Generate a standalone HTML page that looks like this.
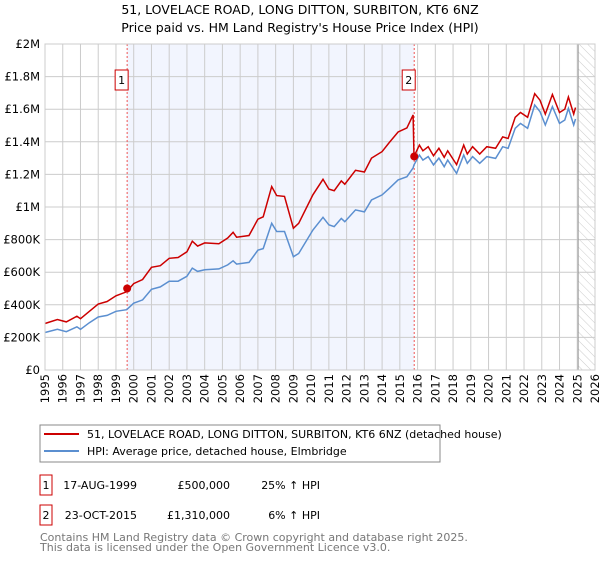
<!DOCTYPE html>
<html><head><meta charset="utf-8"><style>
body{margin:0;background:#fff;font-family:"Liberation Sans","DejaVu Sans",sans-serif;}
svg text{font-family:"DejaVu Sans","Liberation Sans",sans-serif;}
</style></head><body>
<svg id="chart" width="600" height="560" xmlns="http://www.w3.org/2000/svg">
<defs><pattern id="hatch" width="6" height="6" patternUnits="userSpaceOnUse" patternTransform="rotate(-45)"><line x1="0" y1="0" x2="0" y2="6" stroke="#ccc" stroke-width="1"/></pattern></defs>
<text x="300" y="14" text-anchor="middle" font-size="12.5" fill="#000">51, LOVELACE ROAD, LONG DITTON, SURBITON, KT6 6NZ</text>
<text x="300" y="32" text-anchor="middle" font-size="12.5" fill="#000">Price paid vs. HM Land Registry's House Price Index (HPI)</text>
<g id="plot"></g>
<g>
<rect x="40" y="425" width="400" height="37" fill="#fff" stroke="#888"/>
<line x1="44" y1="434" x2="79" y2="434" stroke="#cc0000" stroke-width="2"/>
<text x="87" y="438" font-size="11">51, LOVELACE ROAD, LONG DITTON, SURBITON, KT6 6NZ (detached house)</text>
<line x1="44" y1="451" x2="79" y2="451" stroke="#5b8fd0" stroke-width="2"/>
<text x="87" y="455" font-size="11">HPI: Average price, detached house, Elmbridge</text>
</g>
<g font-size="11">
<rect x="40" y="475" width="12" height="20" fill="#fff" stroke="#cc0000"/>
<text x="46" y="489" text-anchor="middle">1</text>
<text x="137" y="489" text-anchor="end">17-AUG-1999</text>
<text x="230" y="489" text-anchor="end">£500,000</text>
<text x="320" y="489" text-anchor="end">25% ↑ HPI</text>
<rect x="40" y="505" width="12" height="20" fill="#fff" stroke="#cc0000"/>
<text x="46" y="519" text-anchor="middle">2</text>
<text x="137" y="519" text-anchor="end">23-OCT-2015</text>
<text x="230" y="519" text-anchor="end">£1,310,000</text>
<text x="320" y="519" text-anchor="end">6% ↑ HPI</text>
</g>
<g font-size="11" fill="#777">
<text x="40" y="541">Contains HM Land Registry data © Crown copyright and database right 2025.</text>
<text x="40" y="551">This data is licensed under the Open Government Licence v3.0.</text>
</g>
</svg>
<script>
const years=[1995.0,1995.7,1996.2,1996.8,1997.0,1997.5,1998.0,1998.5,1999.0,1999.6,2000.0,2000.5,2001.0,2001.5,2002.0,2002.5,2003.0,2003.3,2003.6,2004.0,2004.8,2005.3,2005.6,2005.8,2006.5,2007.0,2007.3,2007.78,2008.06,2008.5,2009.0,2009.3,2010.1,2010.67,2011.0,2011.3,2011.7,2011.9,2012.5,2013.0,2013.4,2014.0,2014.4,2014.9,2015.4,2015.75,2015.8,2016.1,2016.3,2016.6,2016.9,2017.2,2017.5,2017.7,2018.2,2018.6,2018.8,2019.1,2019.5,2019.9,2020.4,2020.8,2021.1,2021.5,2021.8,2022.2,2022.6,2022.9,2023.2,2023.6,2024.0,2024.3,2024.5,2024.8,2024.9];
const hpiValues=[230,250,235,265,250,290,325,335,360,370,410,430,495,510,545,545,575,625,605,615,620,645,670,650,660,735,745,900,850,850,695,715,859,937,890,880,930,910,982,970,1043,1074,1114,1166,1186,1240,1258,1319,1288,1309,1258,1300,1247,1288,1206,1319,1268,1309,1268,1309,1298,1370,1360,1483,1513,1483,1626,1585,1503,1616,1513,1534,1605,1503,1540];
const priceValues=[285,310,295,330,315,360,405,420,455,480,530,555,630,640,685,690,725,790,760,780,775,810,845,815,825,925,940,1125,1070,1065,870,900,1075,1170,1110,1100,1160,1140,1225,1215,1300,1340,1395,1460,1485,1565,1310,1380,1345,1370,1315,1360,1305,1345,1260,1380,1325,1370,1325,1370,1360,1430,1420,1550,1580,1550,1695,1655,1570,1690,1580,1600,1675,1570,1610];
const saleYears=[1999.63,2015.81];
const saleValues=[500,1310];
const saleLabels=["1","2"];
const yTicks=[0,200,400,600,800,1000,1200,1400,1600,1800,2000];
const yTickLabels=["£0","£200K","£400K","£600K","£800K","£1M","£1.2M","£1.4M","£1.6M","£1.8M","£2M"];
const xTicks=[1995,1996,1997,1998,1999,2000,2001,2002,2003,2004,2005,2006,2007,2008,2009,2010,2011,2012,2013,2014,2015,2016,2017,2018,2019,2020,2021,2022,2023,2024,2025,2026];
const X0=45,X1=595,Y0=370,Y1=44;
const xs=y=>X0+(y-1995)/31*(X1-X0);
const ys=v=>Y0-v/2000*(Y0-Y1);
const NS="http://www.w3.org/2000/svg";
const g=document.getElementById('plot');
function mk(t,a,p){const e=document.createElementNS(NS,t);for(const k in a)e.setAttribute(k,a[k]);(p||g).appendChild(e);return e;}
let e;
e=mk('rect',{x:xs(saleYears[0]),y:Y1,width:xs(saleYears[1])-xs(saleYears[0]),height:Y0-Y1,fill:'#f2f5fe'});


e=mk('rect',{x:xs(2025.05),y:Y1,width:X1-xs(2025.05),height:Y0-Y1,fill:'url(#hatch)'});


yTicks.forEach((v,i)=>{
 e=mk('line',{x1:X0,x2:X1,y1:ys(v),y2:ys(v),stroke:'#cccccc','stroke-width':1});
 
 
 e=mk('text',{x:X0-5,y:ys(v)+4,'text-anchor':'end','font-size':11.5});
 e.textContent=yTickLabels[i];
 
 
});
xTicks.forEach(yr=>{
 e=mk('line',{x1:xs(yr),x2:xs(yr),y1:Y1,y2:Y0,stroke:'#cccccc','stroke-width':1});
 
 
 e=mk('text',{x:0,y:0,'text-anchor':'end','font-size':11.5,transform:`translate(${xs(yr)+4},${Y0+4}) rotate(-90)`});
 e.textContent=yr;
 
 
});
e=mk('line',{x1:xs(2025.05),x2:xs(2025.05),y1:Y1,y2:Y0,stroke:'#999','stroke-width':1});


saleYears.forEach((yr,i)=>{
 e=mk('line',{x1:xs(yr),x2:xs(yr),y1:Y1,y2:Y0,stroke:'#ee5555','stroke-width':1,'stroke-dasharray':'2,2'});
 
 
});
function path(vals){return vals.map((v,i)=>(i?'L':'M')+xs(years[i]).toFixed(1)+','+ys(v).toFixed(1)).join('');}
e=mk('path',{d:path(hpiValues),fill:'none',stroke:'#5b8fd0','stroke-width':1.5});


e=mk('path',{d:path(priceValues),fill:'none',stroke:'#cc0000','stroke-width':1.5});


saleYears.forEach((yr,i)=>{
 e=mk('circle',{cx:xs(yr),cy:ys(saleValues[i]),r:4,fill:'#cc0000'});
 
 
 e=mk('rect',{x:xs(yr)-12,y:70,width:13,height:20,fill:'#fff',stroke:'#cc0000'});
 
 
 e=mk('text',{x:xs(yr)-5.5,y:84,'text-anchor':'middle','font-size':11});
 e.textContent=saleLabels[i];
 
 
});
e=mk('rect',{x:X0,y:Y1,width:X1-X0,height:Y0-Y1,fill:'none',stroke:'#cccccc'});


</script>
</body></html>
